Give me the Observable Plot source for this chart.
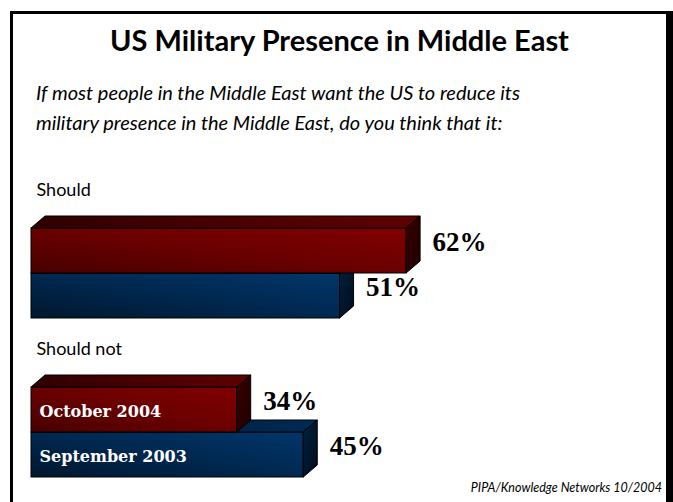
<!DOCTYPE html>
<html><head><meta charset="utf-8">
<script src="https://cdn.jsdelivr.net/npm/d3@7"></script>
<script src="https://cdn.jsdelivr.net/npm/@observablehq/plot@0.6"></script>
<style>
html,body{margin:0;padding:0;background:#fff;}
body{width:673px;height:502px;overflow:hidden;position:relative;font-family:Lato,"Open Sans",sans-serif;color:#000;}
#chart{position:absolute;left:0;top:0;width:673px;height:502px;}
#chart svg{position:absolute;left:0;top:0;}
#frame{position:absolute;left:10px;top:11px;width:653px;height:520px;border:3px solid #000;border-right-width:7px;border-bottom:none;pointer-events:none;}
#title{position:absolute;left:13px;width:653px;top:22px;text-align:center;font-weight:bold;font-size:29px;line-height:35px;white-space:nowrap;}
#subtitle{position:absolute;left:36px;top:77px;font-style:italic;font-size:20px;line-height:30px;white-space:nowrap;}
#footer{position:absolute;right:11px;top:480px;font-style:italic;font-size:12.5px;line-height:15px;white-space:nowrap;}
</style>
</head><body>
<div id="chart"></div>
<div id="title"></div>
<div id="subtitle"></div>
<div id="footer"></div>
<div id="frame"></div>
<script>
const titleText = "US Military Presence in Middle East";
const subtitleLines = ["If most people in the Middle East want the US to reduce its", "military presence in the Middle East, do you think that it:"];
const sourceText = "PIPA/Knowledge Networks 10/2004";
const categories = ["Should", "Should not"];
const series = ["October 2004", "September 2003"];
const oct2004 = [62, 34];
const sep2003 = [51, 45];

document.getElementById("title").textContent = titleText;
document.getElementById("subtitle").innerHTML = subtitleLines.join("<br>");
document.getElementById("footer").textContent = sourceText;

// draw back series first so the front one covers its top face
const rows = categories.flatMap((c, i) => [
  {cat: c, series: series[1], value: sep2003[i]},
  {cat: c, series: series[0], value: oct2004[i]}
]);

const plot = Plot.plot({
  width: 673, height: 502,
  marginLeft: 31, marginRight: 37, marginTop: 227, marginBottom: 25,
  facet: {marginTop: 0, marginBottom: 0, marginLeft: 0, marginRight: 0},
  x: {domain: [0, 100], axis: null},
  y: {domain: series, axis: null, padding: 0},
  fy: {domain: categories, axis: null, paddingInner: 0.428, paddingOuter: 0},
  color: {domain: series, range: ["url(#gRed)", "url(#gBlue)"]},
  style: {background: "none", overflow: "visible"},
  marks: [
    Plot.barX(rows, {fy: "cat", y: "series", x: "value", fill: "series", stroke: "#000", strokeWidth: 1}),
    Plot.text(rows.filter(d => d.cat === categories[1]), {
      fy: "cat", y: "series", x: 0, text: "series", dx: 8, dy: 2, textAnchor: "start",
      fill: "#fff", fontFamily: "DejaVu Serif", fontWeight: "bold", fontSize: 16
    }),
    Plot.text(rows, {
      fy: "cat", y: "series", x: "value", text: d => d.value + "%", dx: 26, dy: -9, textAnchor: "start",
      fill: "#000", fontFamily: "Liberation Serif", fontWeight: "bold", fontSize: 27
    }),
    Plot.text(categories, {
      fy: d => d, text: d => d, frameAnchor: "top-left", dx: 5, dy: -44, textAnchor: "start",
      fill: "#000", fontFamily: "Lato", fontSize: 18
    })
  ]
});
document.getElementById("chart").appendChild(plot);

// 3D faces
const DX = 14, DY = 12;
const svg = d3.select(plot);
const defs = svg.insert("defs", ":first-child");
function grad(id, stops, x1, y1, x2, y2) {
  const g = defs.append("linearGradient").attr("id", id)
    .attr("x1", x1).attr("y1", y1).attr("x2", x2).attr("y2", y2);
  stops.forEach((c, i) => g.append("stop").attr("offset", i / (stops.length - 1)).attr("stop-color", c));
}
grad("gRed", ["#470000", "#6a0000", "#820000"], 0, 1, 1, 0);
grad("gBlue", ["#00172e", "#002850", "#00366b"], 0, 1, 1, 0);
grad("gRedTop", ["#2e0000", "#4a0000", "#5e0000"], 0, 0, 1, 0);
grad("gBlueTop", ["#00142a", "#001f40", "#002a55"], 0, 0, 1, 0);
grad("gRedSide", ["#3a0000", "#1e0000"], 0, 0, 1, 1);
grad("gBlueSide", ["#00223f", "#000c1a"], 0, 0, 1, 1);

const ns = "http://www.w3.org/2000/svg";
svg.selectAll("rect").each(function() {
  const f = this.getAttribute("fill") || "";
  const red = f.includes("gRed");
  const x = +this.getAttribute("x"), y = +this.getAttribute("y");
  const w = +this.getAttribute("width"), h = +this.getAttribute("height");
  const top = document.createElementNS(ns, "polygon");
  top.setAttribute("points", `${x},${y} ${x + w},${y} ${x + w + DX},${y - DY} ${x + DX},${y - DY}`);
  top.setAttribute("fill", red ? "url(#gRedTop)" : "url(#gBlueTop)");
  top.setAttribute("stroke", "#000");
  top.setAttribute("stroke-width", 1);
  const side = document.createElementNS(ns, "polygon");
  side.setAttribute("points", `${x + w},${y} ${x + w + DX},${y - DY} ${x + w + DX},${y + h - DY} ${x + w},${y + h}`);
  side.setAttribute("fill", red ? "url(#gRedSide)" : "url(#gBlueSide)");
  side.setAttribute("stroke", "#000");
  side.setAttribute("stroke-width", 1);
  this.after(top, side);
});
</script>
</body></html>
